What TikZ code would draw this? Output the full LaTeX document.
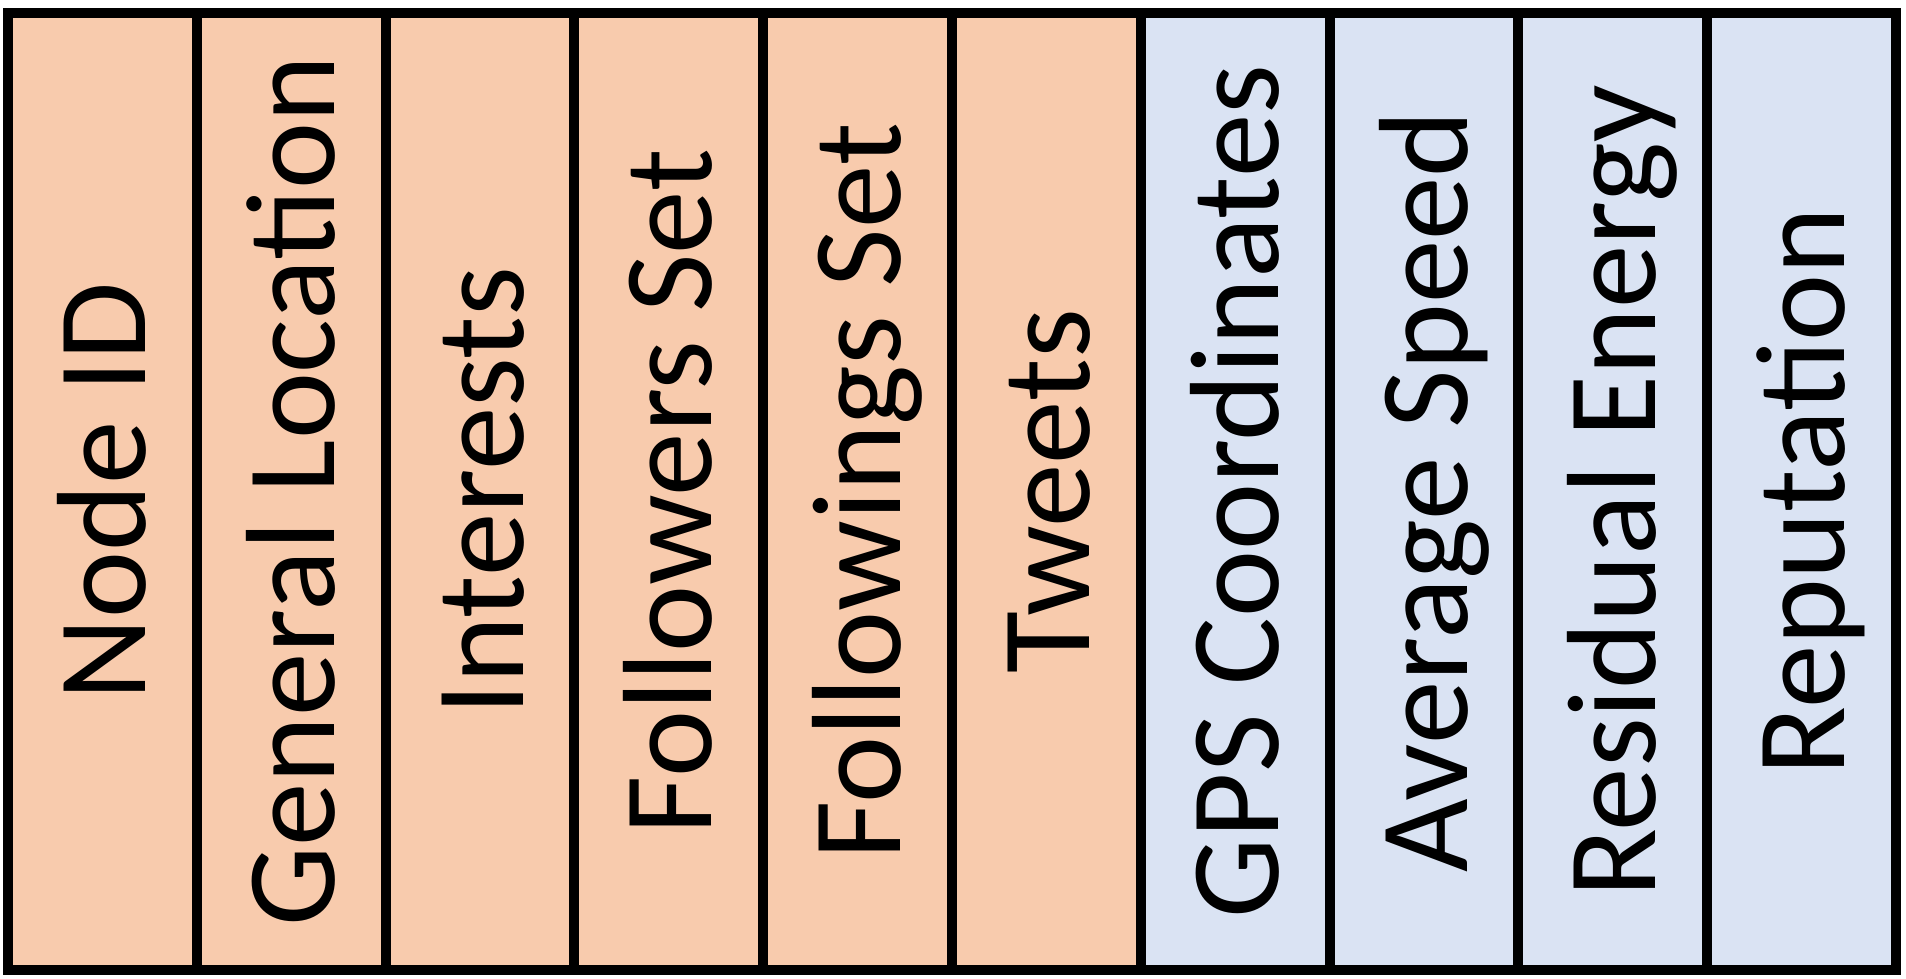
\documentclass[tikz,border=0pt]{standalone}
\usepackage{fontspec}
\setmainfont{Carlito}
\definecolor{peach}{HTML}{F8CBAD}
\definecolor{paleblue}{HTML}{DAE3F3}
\begin{document}
\begin{tikzpicture}[x=1pt,y=1pt,
  cell/.style={draw=black, line width=10pt, minimum width=188.8pt, minimum height=957pt, inner sep=0pt, outer sep=0pt},
  lbl/.style={rotate=90, anchor=base, font=\fontsize{127}{150}\selectfont, inner sep=0pt}]
\useasboundingbox (0,0) rectangle (1906,978);
\foreach \i/\t/\c in {0/Node ID/peach, 1/General Location/peach, 2/Interests/peach, 3/Followers Set/peach, 4/Followings Set/peach, 5/Tweets/peach, 6/GPS Coordinates/paleblue, 7/Average Speed/paleblue, 8/Residual Energy/paleblue, 9/Reputation/paleblue} {
  \node[cell, fill=\c] (c\i) at ({8+188.8*(\i+0.5)}, 486.5) {};
  \node[lbl] (t\i) at ([xshift=43pt]c\i.center) {\t};
}
\end{tikzpicture}
\end{document}
